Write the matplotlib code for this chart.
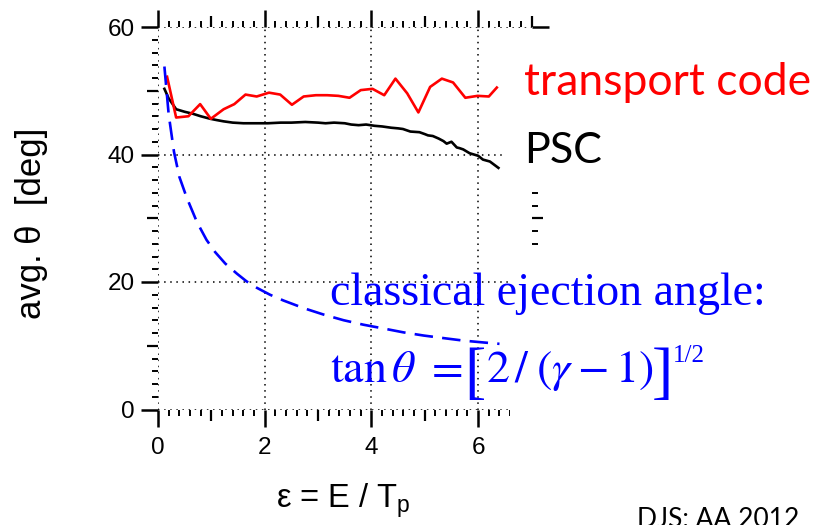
import matplotlib
matplotlib.use("Agg")
import matplotlib.pyplot as plt
from matplotlib.ticker import MultipleLocator, FixedLocator
from matplotlib.patches import Rectangle

plt.rcParams['font.family'] = ['Liberation Sans', 'DejaVu Sans']
plt.rcParams['mathtext.fontset'] = 'stix'
plt.rcParams['mathtext.rm'] = 'Liberation Sans'
plt.rcParams['mathtext.it'] = 'Liberation Sans:italic'

# PSC simulation: mean ejection angle vs reduced energy
psc_eps = [0.12, 0.2, 0.34, 0.5, 0.65, 0.8, 0.98, 1.1, 1.23, 1.4, 1.6, 1.8,
           2.06, 2.3, 2.5, 2.76, 3.0, 3.14, 3.3, 3.5, 3.62, 3.76, 3.9, 4.06,
           4.2, 4.37, 4.5, 4.59, 4.66, 4.73, 4.9, 5.0, 5.06, 5.15, 5.26, 5.35,
           5.41, 5.5, 5.6, 5.65, 5.72, 5.84, 5.92, 6.0, 6.09, 6.22, 6.38]
psc_theta = [50.3, 48.8, 47.1, 46.7, 46.4, 46.0, 45.6, 45.4, 45.2, 45.0, 44.9, 44.9,
             44.9, 45.0, 45.0, 45.1, 45.0, 44.9, 45.0, 44.9, 44.7, 44.6, 44.7, 44.5,
             44.4, 44.2, 44.1, 44.0, 43.8, 43.6, 43.5, 43.2, 43.0, 42.9, 42.5, 42.1,
             41.7, 42.0, 41.1, 41.0, 40.8, 40.2, 40.0, 39.8, 39.2, 38.9, 37.9]

# transport code result
tc_eps = [0.17, 0.34, 0.57, 0.79, 0.99, 1.23, 1.43, 1.64, 1.85, 2.08, 2.29, 2.51,
          2.73, 2.96, 3.17, 3.38, 3.59, 3.80, 4.02, 4.24, 4.45, 4.67, 4.88, 5.10,
          5.32, 5.53, 5.76, 5.99, 6.20, 6.35]
tc_theta = [52.2, 45.8, 46.0, 47.9, 45.6, 47.1, 47.9, 49.4, 49.1, 49.7, 49.4, 47.8,
            49.1, 49.3, 49.3, 49.2, 48.9, 50.1, 50.3, 49.3, 51.9, 49.6, 46.6, 50.6,
            51.9, 51.3, 48.9, 49.2, 49.1, 50.5]

# classical ejection angle curve
cl_eps = [0.12, 0.2, 0.3, 0.4, 0.54, 0.73, 0.91, 1.07, 1.26, 1.48, 1.66, 1.85,
          2.10, 2.35, 2.73, 3.10, 3.48, 3.85, 4.23, 4.60, 4.98, 5.35, 5.73, 6.12, 6.4]
cl_theta = [53.8, 46.3, 40.4, 36.5, 33.2, 29.4, 26.6, 24.7, 22.9, 21.3, 20.1, 19.1,
            18.0, 17.1, 15.9, 14.9, 14.0, 13.3, 12.7, 12.1, 11.6, 11.2, 10.8, 10.5, 10.3]

x_limits = (0, 7)
y_limits = (0, 60)
x_mid_ticks = [1, 3, 5, 7]
y_mid_ticks = [10, 30, 50]

W, H = 826, 525
BLUE = '#0000ff'
fig = plt.figure(figsize=(W / 100, H / 100), dpi=100)
fig.patch.set_facecolor('white')

rect = [158 / W, 1 - 409.5 / H, (531.5 - 158) / W, (409.5 - 27) / H]
ax = fig.add_axes(rect)
ax.set_xlim(*x_limits)
ax.set_ylim(*y_limits)
for s in ax.spines.values():
    s.set_visible(False)

ax.xaxis.set_major_locator(MultipleLocator(2))
ax.xaxis.set_minor_locator(MultipleLocator(0.2))
ax.yaxis.set_major_locator(MultipleLocator(20))
ax.yaxis.set_minor_locator(MultipleLocator(2))
ax.tick_params(which='major', direction='out', length=12, width=1.8,
               top=True, right=True, labeltop=False, labelright=False,
               labelsize=17.5, pad=5)
ax.tick_params(axis='x', which='major', pad=8)
ax.tick_params(which='minor', direction='out', length=4.3, width=1.4,
               top=True, right=True)
ax.grid(which='major', linestyle=(0, (1, 3)), color='black', linewidth=1.1)

# intermediate-length ticks
ax2 = fig.add_axes(rect, frameon=False)
ax2.set_xlim(*x_limits)
ax2.set_ylim(*y_limits)
ax2.xaxis.set_major_locator(FixedLocator(x_mid_ticks))
ax2.yaxis.set_major_locator(FixedLocator(y_mid_ticks))
ax2.tick_params(direction='out', length=8, width=1.6, top=True, right=True,
                labelbottom=False, labelleft=False)
ax2.patch.set_visible(False)

ax.plot(psc_eps, psc_theta, color='black', lw=1.9)
ax.plot(tc_eps, tc_theta, color='#ff0000', lw=1.9)
ax.plot(cl_eps, cl_theta, color=BLUE, lw=1.9, dashes=(7, 3.5))

# white panels behind the annotation blocks
fig.add_artist(Rectangle((506 / W, 1 - 188 / H), 1, (188 - 29) / H,
                         transform=fig.transFigure, facecolor='white',
                         edgecolor='none', zorder=2))
fig.add_artist(Rectangle((510 / W, 0), 1, 1 - 248 / H,
                         transform=fig.transFigure, facecolor='white',
                         edgecolor='none', zorder=2))

fig.text(32 / W, 1 - 223 / H, 'avg. θ  [deg]', rotation=90, ha='center',
         va='center', fontsize=25)
fig.text(343 / W, 1 - 508 / H, r'ε = E / T$_\mathrm{p}$', ha='center',
         va='baseline', fontsize=23.5, math_fontfamily='custom')

fig.text(524 / W, 1 - 95 / H, 'transport code', color='#ff0000',
         fontsize=32, family='Lato', va='baseline', zorder=4)
fig.text(524 / W, 1 - 163 / H, 'PSC', color='black',
         fontsize=31, family='Lato', va='baseline', zorder=4)
fig.text(330 / W, 1 - 305 / H, 'classical ejection angle:', color=BLUE,
         fontsize=33, family='Liberation Serif', va='baseline', zorder=4)

# formula, assembled piece by piece so the brackets can be tall
renderer = fig.canvas.get_renderer()
base_y = 1 - 382 / H
brk_y = 1 - 376 / H


def put(x_px, s, gap=0.0, **kw):
    t = fig.text(x_px / W, kw.pop('y', base_y), s, color=BLUE, zorder=4,
                 va=kw.pop('va', 'baseline'), **kw)
    return t.get_window_extent(renderer).x1 + gap


x = put(330, r'$\tan\theta\ =$', gap=2, fontsize=33, math_fontfamily='stix')
x = put(x, '[', gap=0, fontsize=46, family='Liberation Serif', y=brk_y,
        va='center')
x = put(x, r'$2\,/\;(\gamma - 1)$', gap=-1, fontsize=33,
        math_fontfamily='stix')
x = put(x, ']', gap=0, fontsize=46, family='Liberation Serif', y=brk_y,
        va='center')
put(x, '1/2', fontsize=18, family='Liberation Serif', y=1 - 362 / H)

fig.text(637 / W, 1 - 527 / H, 'DJS: AA 2012', color='black', fontsize=19,
         family='Lato', va='baseline', zorder=4)

fig.savefig('out.png', dpi=100, facecolor='white')
